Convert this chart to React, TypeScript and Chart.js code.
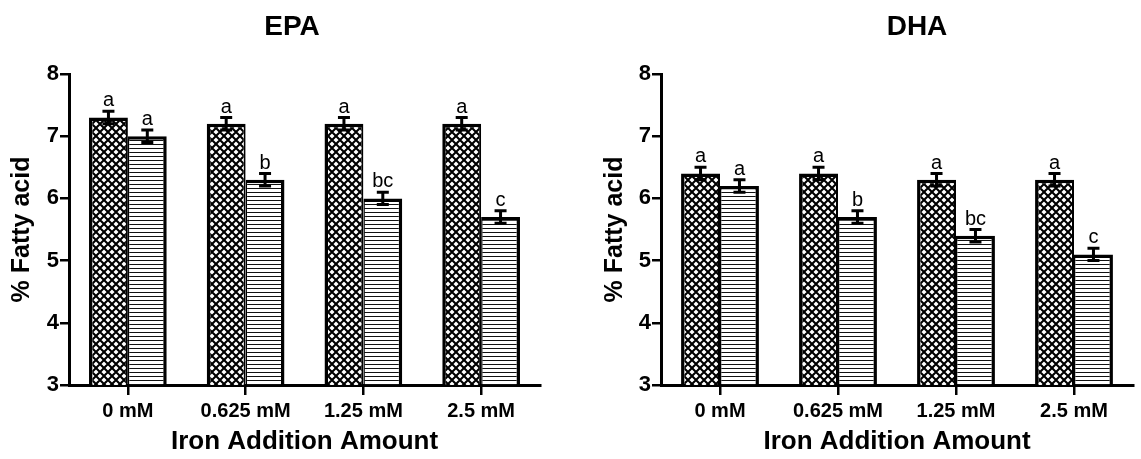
import { useEffect, useRef } from "react";
import { Chart, registerables } from "chart.js";

Chart.register(...registerables);

// Iron doses on the x axis
const doses = ["0 mM", "0.625 mM", "1.25 mM", "2.5 mM"];
const yTickValues = [3, 4, 5, 6, 7, 8];

// EPA (% of fatty acids)
const epaHatched = [7.3, 7.2, 7.2, 7.2];
const epaLined = [7.0, 6.3, 6.0, 5.7];
const epaHatchedErr = [0.1, 0.1, 0.1, 0.1];
const epaLinedErr = [0.1, 0.1, 0.1, 0.1];
const epaHatchedLetters = ["a", "a", "a", "a"];
const epaLinedLetters = ["a", "b", "bc", "c"];

// DHA (% of fatty acids)
const dhaHatched = [6.4, 6.4, 6.3, 6.3];
const dhaLined = [6.2, 5.7, 5.4, 5.1];
const dhaHatchedErr = [0.1, 0.1, 0.1, 0.1];
const dhaLinedErr = [0.1, 0.1, 0.1, 0.1];
const dhaHatchedLetters = ["a", "a", "a", "a"];
const dhaLinedLetters = ["a", "b", "bc", "c"];

const FONT = "Arial, 'Liberation Sans', Helvetica, sans-serif";

function crossHatch(): CanvasPattern | string {
  const c = document.createElement("canvas");
  c.width = 8;
  c.height = 8;
  const g = c.getContext("2d");
  if (!g) return "#888";
  g.fillStyle = "#fff";
  g.fillRect(0, 0, 8, 8);
  g.strokeStyle = "#000";
  g.lineWidth = 2.1;
  g.beginPath();
  g.moveTo(-2, -2);
  g.lineTo(10, 10);
  g.moveTo(-2, 10);
  g.lineTo(10, -2);
  g.stroke();
  return g.createPattern(c, "repeat") || "#888";
}

function horizontalLines(): CanvasPattern | string {
  const c = document.createElement("canvas");
  c.width = 4;
  c.height = 4;
  const g = c.getContext("2d");
  if (!g) return "#ccc";
  g.fillStyle = "#fff";
  g.fillRect(0, 0, 4, 4);
  g.fillStyle = "#111";
  g.fillRect(0, 0, 4, 1);
  return g.createPattern(c, "repeat") || "#ccc";
}

// Error bars, significance letters and the panel heading
const annotate = {
  id: "annotate",
  afterDatasetsDraw(chart: any, _args: any, opts: any) {
    const ctx = chart.ctx as CanvasRenderingContext2D;
    const y = chart.scales.y;
    ctx.save();
    chart.data.datasets.forEach((ds: any, di: number) => {
      const meta = chart.getDatasetMeta(di);
      const errs: number[] = opts.errors[di];
      const letters: string[] = opts.letters[di];
      meta.data.forEach((bar: any, i: number) => {
        const v = ds.data[i] as number;
        const e = errs[i];
        const x = bar.x;
        const top = y.getPixelForValue(v + e);
        const bot = y.getPixelForValue(v - e);
        ctx.strokeStyle = "#000";
        ctx.lineWidth = 3;
        ctx.beginPath();
        ctx.moveTo(x, top);
        ctx.lineTo(x, bot);
        ctx.moveTo(x - 6, top);
        ctx.lineTo(x + 6, top);
        ctx.moveTo(x - 6, bot);
        ctx.lineTo(x + 6, bot);
        ctx.stroke();
        ctx.fillStyle = "#000";
        ctx.font = `20px ${FONT}`;
        ctx.textAlign = "center";
        ctx.textBaseline = "alphabetic";
        ctx.fillText(letters[i], x, top - 5);
      });
    });
    ctx.font = `bold 28px ${FONT}`;
    ctx.textAlign = "center";
    ctx.textBaseline = "middle";
    ctx.fillStyle = "#000";
    ctx.fillText(opts.heading, opts.headingX, 27);
    ctx.restore();
  },
};

type PanelProps = {
  heading: string;
  headingX: number;
  width: number;
  axisWidth: number;
  rightPad: number;
  yTitlePad: number;
  hatched: number[];
  lined: number[];
  hatchedErr: number[];
  linedErr: number[];
  hatchedLetters: string[];
  linedLetters: string[];
};

function Panel(p: PanelProps) {
  const ref = useRef<HTMLCanvasElement | null>(null);
  useEffect(() => {
    if (!ref.current) return;
    const chart = new Chart(ref.current, {
      type: "bar",
      data: {
        labels: doses,
        datasets: [
          {
            data: p.hatched,
            backgroundColor: crossHatch() as any,
            borderColor: "#000",
            borderWidth: { top: 3.5, left: 3.5, right: 2, bottom: 0 },
            borderSkipped: false,
            categoryPercentage: 0.66,
            barPercentage: 1,
          },
          {
            data: p.lined,
            backgroundColor: horizontalLines() as any,
            borderColor: "#000",
            borderWidth: { top: 3.5, left: 1.5, right: 3.5, bottom: 0 },
            borderSkipped: false,
            categoryPercentage: 0.66,
            barPercentage: 1,
          },
        ],
      },
      options: {
        animation: false,
        responsive: false,
        layout: { padding: { left: 0, top: 74, right: p.rightPad, bottom: 0 } },
        plugins: {
          legend: { display: false },
          tooltip: { enabled: false },
          annotate: {
            errors: [p.hatchedErr, p.linedErr],
            letters: [p.hatchedLetters, p.linedLetters],
            heading: p.heading,
            headingX: p.headingX,
          },
        } as any,
        scales: {
          x: {
            offset: true,
            grid: {
              offset: false,
              drawOnChartArea: false,
              drawTicks: true,
              tickLength: 10,
              color: "#000",
              lineWidth: 2.5,
            },
            border: { display: true, color: "#000", width: 3 },
            ticks: {
              padding: 4,
              color: "#000",
              font: { family: FONT, size: 20, weight: "bold" },
              maxRotation: 0,
            },
            title: {
              display: true,
              text: "Iron Addition Amount",
              color: "#000",
              font: { family: FONT, size: 26, weight: "bold" },
              padding: { top: 0, bottom: 2 },
            },
            afterFit: (s: any) => {
              s.height = 74;
            },
          },
          y: {
            min: 3,
            max: 8,
            afterBuildTicks: (s: any) => {
              s.ticks = yTickValues.map((v) => ({ value: v }));
            },
            grid: {
              drawOnChartArea: false,
              drawTicks: true,
              tickLength: 9,
              color: "#000",
              lineWidth: 2.5,
            },
            border: { display: true, color: "#000", width: 3 },
            ticks: {
              padding: 1,
              color: "#000",
              font: { family: FONT, size: 22, weight: "bold" },
            },
            title: {
              display: true,
              text: "% Fatty acid",
              color: "#000",
              font: { family: FONT, size: 25, weight: "bold" },
              padding: { top: p.yTitlePad, bottom: 0 },
            },
            afterFit: (s: any) => {
              s.width = p.axisWidth;
            },
          },
        },
      },
      plugins: [annotate],
    });
    return () => chart.destroy();
  }, []);
  return (
    <canvas
      ref={ref}
      width={p.width}
      height={459}
      style={{ width: p.width, height: 459, display: "block" }}
    />
  );
}

export default function App() {
  return (
    <div
      style={{
        position: "absolute",
        left: 0,
        top: 0,
        width: 1141,
        height: 459,
        background: "#fff",
        display: "flex",
      }}
    >
      <Panel
        heading="EPA"
        headingX={292}
        width={580}
        axisWidth={69}
        rightPad={40}
        yTitlePad={7}
        hatched={epaHatched}
        lined={epaLined}
        hatchedErr={epaHatchedErr}
        linedErr={epaLinedErr}
        hatchedLetters={epaHatchedLetters}
        linedLetters={epaLinedLetters}
      />
      <Panel
        heading="DHA"
        headingX={337}
        width={561}
        axisWidth={81}
        rightPad={8}
        yTitlePad={20}
        hatched={dhaHatched}
        lined={dhaLined}
        hatchedErr={dhaHatchedErr}
        linedErr={dhaLinedErr}
        hatchedLetters={dhaHatchedLetters}
        linedLetters={dhaLinedLetters}
      />
    </div>
  );
}
